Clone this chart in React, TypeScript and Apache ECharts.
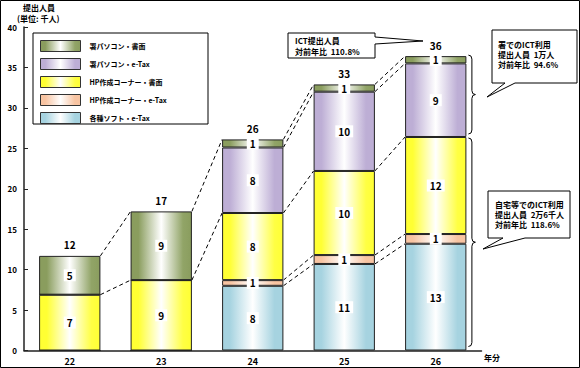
import React, { useEffect, useRef } from "react";
import * as echarts from "echarts";

const years = ["22", "23", "24", "25", "26"];
const softETax = [0, 0, 8.0, 10.7, 13.2];
const hpETax = [0, 0, 0.7, 1.1, 1.2];
const hpPaper = [6.9, 8.7, 8.3, 10.4, 12.0];
const officeETax = [0, 0, 8.1, 9.8, 9.1];
const officePaper = [4.8, 8.5, 1.0, 0.9, 0.9];
const yTicks = [0, 5, 10, 15, 20, 25, 30, 35, 40];

const seriesNames = [
  "各種ソフト・e-Tax",
  "HP作成コーナー・e-Tax",
  "HP作成コーナー・書面",
  "署パソコン・e-Tax",
  "署パソコン・書面",
];
// connector boundaries (cumulative level index) between year i and i+1
const connectorLevels = [
  [3, 5],
  [3, 5],
  [1, 2, 3, 4, 5],
  [1, 2, 3, 4, 5],
];

const FONT = "'Noto Sans CJK JP', 'Noto Sans', sans-serif";

function grad(edge: string, mid: string, edge2: string) {
  return new echarts.graphic.LinearGradient(0, 0, 1, 0, [
    { offset: 0, color: edge },
    { offset: 0.12, color: edge },
    { offset: 0.5, color: mid },
    { offset: 0.86, color: edge2 },
    { offset: 1, color: edge },
  ]);
}

export default function App() {
  const ref = useRef<HTMLDivElement>(null);
  useEffect(() => {
    document.body.style.margin = "0";
    const chart = echarts.init(ref.current!, null, { renderer: "svg" });
    const arrays = [softETax, hpETax, hpPaper, officeETax, officePaper];
    const cum = years.map((_, i) => {
      const c = [0];
      arrays.forEach((a, k) => c.push(c[k] + a[i]));
      return c;
    });
    const totals = cum.map((c) => c[5]);
    const colors = [
      grad("#a6d3e0", "#ffffff", "#a6d3e0"),
      grad("#f8c4a2", "#ffffff", "#f8c4a2"),
      grad("#ffff33", "#ffffff", "#ffff44"),
      grad("#bdaed5", "#ffffff", "#bdaed5"),
      grad("#8a9d5e", "#ffffff", "#91a467"),
    ];
    const barSeries = arrays.map((arr, k) => ({
      name: seriesNames[k],
      type: "bar",
      stack: "total",
      barWidth: "67%",
      itemStyle: { color: colors[k], borderColor: "#222", borderWidth: 1 },
      label: {
        show: true,
        position: "inside",
        formatter: (p: any) => String(Math.round(p.value)),
        backgroundColor: "#fff",
        padding: [1, 3],
        lineHeight: 10,
        fontSize: 10,
        fontWeight: "bold",
        fontFamily: FONT,
        color: "#000",
      },
      data: arr.map((v) => ({ value: v, label: { show: v > 0 } })),
    }));

    const BAR_RATIO = 0.67;
    const customSeries = {
      type: "custom",
      clip: false,
      silent: true,
      z: 5,
      encode: { x: 0, y: 1 },
      data: years.map((_, i) => [i, totals[i]]),
      renderItem: (params: any, api: any) => {
        const i = params.dataIndex;
        const band = api.size([1, 0])[0];
        const bw = band * BAR_RATIO;
        const children: any[] = [];
        const top = api.coord([i, totals[i]]);
        children.push({
          type: "text",
          style: {
            x: top[0],
            y: top[1] - 11,
            text: String(Math.round(totals[i])),
            align: "center",
            verticalAlign: "middle",
            font: `bold 10px ${FONT}`,
            fill: "#000",
          },
        });
        if (i < years.length - 1) {
          connectorLevels[i].forEach((k) => {
            const p1 = api.coord([i, cum[i][k]]);
            const p2 = api.coord([i + 1, cum[i + 1][k]]);
            children.push({
              type: "line",
              shape: { x1: p1[0] + bw / 2, y1: p1[1], x2: p2[0] - bw / 2, y2: p2[1] },
              style: { stroke: "#000", lineWidth: 1, lineDash: [4, 3] },
            });
          });
        } else {
          const x0 = api.coord([i, 0])[0] + bw / 2 + 2;
          const w = 7;
          const brace = (yT: number, yB: number) => {
            const yM = (yT + yB) / 2;
            const xm = x0 + w / 2;
            const r = 4;
            const st = { stroke: "#000", lineWidth: 1, fill: null };
            children.push(
              { type: "bezierCurve", shape: { x1: x0, y1: yT, x2: xm, y2: yT + r, cpx1: xm, cpy1: yT }, style: st },
              { type: "line", shape: { x1: xm, y1: yT + r, x2: xm, y2: yM - r }, style: st },
              { type: "bezierCurve", shape: { x1: xm, y1: yM - r, x2: x0 + w, y2: yM, cpx1: xm, cpy1: yM }, style: st },
              { type: "bezierCurve", shape: { x1: x0 + w, y1: yM, x2: xm, y2: yM + r, cpx1: xm, cpy1: yM }, style: st },
              { type: "line", shape: { x1: xm, y1: yM + r, x2: xm, y2: yB - r }, style: st },
              { type: "bezierCurve", shape: { x1: xm, y1: yB - r, x2: x0, y2: yB, cpx1: xm, cpy1: yB }, style: st }
            );
          };
          brace(api.coord([i, cum[i][5]])[1] - 1, api.coord([i, cum[i][3]])[1] - 3);
          brace(api.coord([i, cum[i][3]])[1] + 1, api.coord([i, 0])[1] - 4);
        }
        return { type: "group", children };
      },
    };

    const txt = (x: number, y: number, text: string, size = 8, align = "left") => ({
      type: "text",
      x,
      y,
      style: {
        text,
        font: `bold ${size}px ${FONT}`,
        fill: "#000",
        align,
        verticalAlign: "middle",
      },
    });
    const box = (points: number[][]) => ({
      type: "polygon",
      shape: { points },
      style: { fill: "#fff", stroke: "#000", lineWidth: 1 },
    });

    chart.setOption({
      animation: false,
      backgroundColor: "#fff",
      grid: { left: 24, right: 98.5, top: 27, bottom: 17.5, containLabel: false },
      legend: {
        data: [...seriesNames].reverse(),
        orient: "vertical",
        left: 40,
        top: 40,
        icon: "rect",
        itemWidth: 40,
        itemHeight: 11,
        itemGap: 6,
        padding: 0,
        selectedMode: false,
        itemStyle: { borderColor: "#333", borderWidth: 1 },
        textStyle: { fontSize: 7, fontWeight: "bold", fontFamily: FONT, color: "#000", padding: [0, 0, 0, 4] },
      },
      xAxis: {
        type: "category",
        data: years,
        axisLine: { lineStyle: { color: "#222", width: 1.5 } },
        axisTick: { inside: true, length: 4, lineStyle: { color: "#222" } },
        axisLabel: { fontSize: 9, fontWeight: "bold", fontFamily: FONT, color: "#000", margin: 6 },
      },
      yAxis: {
        type: "value",
        min: yTicks[0],
        max: yTicks[yTicks.length - 1],
        interval: 5,
        splitLine: { show: false },
        axisLine: { show: true, lineStyle: { color: "#222", width: 1.5 } },
        axisTick: { show: true, inside: true, length: 4, lineStyle: { color: "#222" } },
        axisLabel: { fontSize: 8, fontWeight: "bold", fontFamily: FONT, color: "#000", margin: 7 },
      },
      graphic: [
        { type: "rect", shape: { x: 0.5, y: 0.5, width: 579, height: 367 }, style: { fill: "none", stroke: "#000", lineWidth: 1 }, z: 0 },
        { type: "rect", shape: { x: 33, y: 33, width: 175, height: 91 }, style: { fill: "#fff", stroke: "#000", lineWidth: 1 }, z: 0 },
        txt(23, 7, "提出人員"),
        txt(17, 18, "(単位: 千人)"),
        txt(484, 357, "年分"),
        box([[288, 33], [375, 33], [375, 37], [423, 41], [375, 44], [375, 58], [288, 58]]),
        txt(295, 40, "ICT提出人員"),
        txt(295, 51, "対前年比  110.8%"),
        box([[492, 30], [577, 30], [577, 83], [515, 83], [487, 97], [505, 83], [492, 83]]),
        txt(498, 44, "署でのICT利用"),
        txt(498, 54, "提出人員  1万人"),
        txt(498, 64, "対前年比  94.6%"),
        box([[488, 191], [570, 191], [570, 238], [525, 238], [483, 249], [503, 238], [488, 238]]),
        txt(495, 204, "自宅等でのICT利用"),
        txt(495, 214, "提出人員  2万6千人"),
        txt(495, 224, "対前年比  118.6%"),
      ],
      series: [...barSeries, customSeries],
    });
    return () => chart.dispose();
  }, []);
  return <div ref={ref} style={{ position: "absolute", left: 0, top: 0, width: 580, height: 368 }} />;
}
